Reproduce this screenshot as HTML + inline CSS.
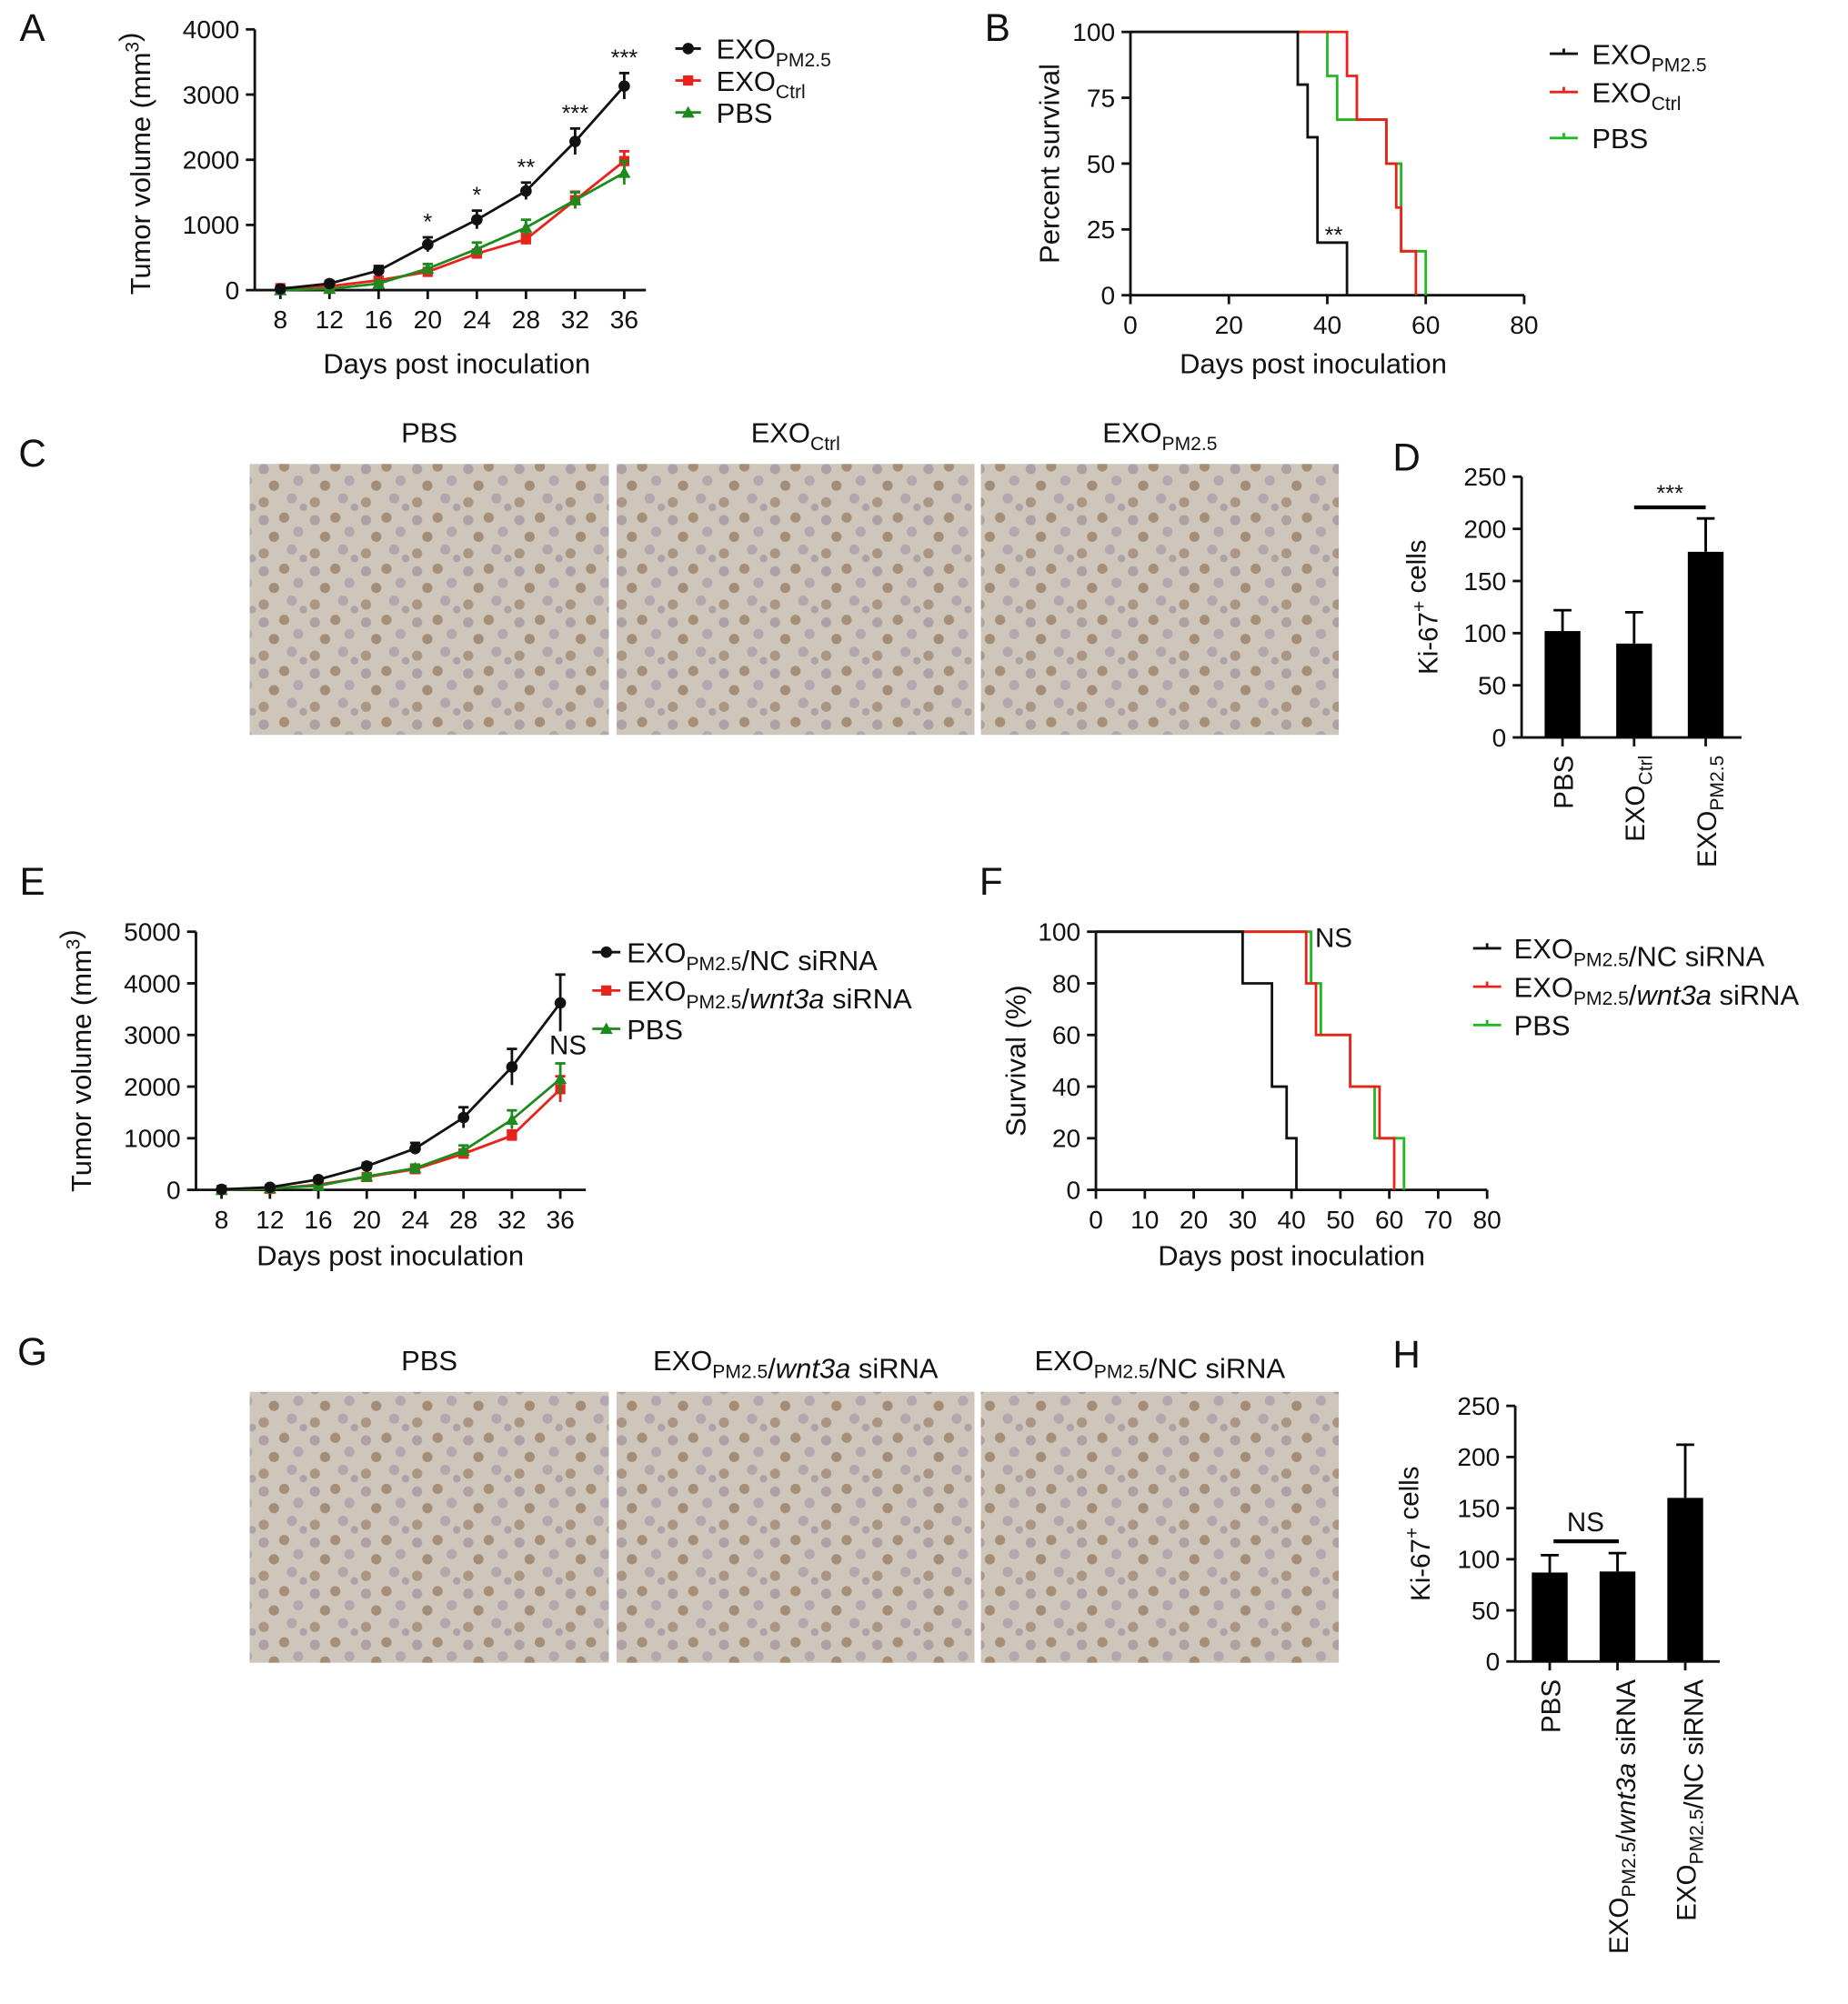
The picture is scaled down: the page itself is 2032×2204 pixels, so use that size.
<!DOCTYPE html>
<html><head><meta charset="utf-8"><style>
html,body{margin:0;padding:0;background:#fff}
svg{display:block;font-family:"Liberation Sans",Arial,sans-serif}
</style></head><body>
<svg id="fig" width="2032" height="2204" viewBox="0 0 1445 1568" xmlns="http://www.w3.org/2000/svg">
<defs>
<pattern id="ihc" width="40" height="40" patternUnits="userSpaceOnUse">
<rect width="40" height="40" fill="#cfc6bb"/>
<circle cx="6" cy="7" r="4" fill="#8f7a8f" opacity=".5"/><circle cx="22" cy="5" r="4" fill="#8a6a4a" opacity=".6"/>
<circle cx="33" cy="16" r="4" fill="#9a8aa6" opacity=".5"/><circle cx="14" cy="20" r="4" fill="#7f5e3e" opacity=".55"/>
<circle cx="28" cy="30" r="4" fill="#9488a0" opacity=".5"/><circle cx="6" cy="33" r="4" fill="#85654a" opacity=".5"/>
<circle cx="37" cy="37" r="3" fill="#8d7d96" opacity=".5"/>
</pattern>
</defs>
<g id="root"></g>
</svg>
<script>
// ---- Panel A data ----
const aDays=[8,12,16,20,24,28,32,36];
const aPM=[20,100,300,700,1080,1520,2280,3130];
const aPMerr=[30,40,70,110,140,130,200,200];
const aCtrl=[30,60,150,280,560,780,1380,1980];
const aCtrlErr=[20,30,40,50,60,80,130,150];
const aPBS=[0,20,100,330,630,960,1380,1800];
const aPBSerr=[10,20,40,70,100,120,120,180];
const aStars=['','','','*','*','**','***','***'];
const aYTicks=[0,1000,2000,3000,4000];
// ---- Panel B data (survival steps: time, percent) ----
const bBlackT=[0,34,36,38,44];const bBlackS=[100,80,60,20,0];
const bRedT=[0,44,46,52,54,55,58];const bRedS=[100,83.3,66.7,50,33.3,16.7,0];
const bGreenT=[0,40,42,52,55,60];const bGreenS=[100,83.3,66.7,50,16.7,0];
const bXTicks=[0,20,40,60,80];const bYTicks=[0,25,50,75,100];
// ---- Panel D data ----
const dVals=[102,90,178];const dErr=[20,30,32];const dTicks=[0,50,100,150,200,250];
// ---- Panel E data ----
const eDays=[8,12,16,20,24,28,32,36];
const ePM=[10,50,200,460,800,1400,2380,3620];
const ePMerr=[20,30,40,60,110,200,350,550];
const eWnt=[0,20,100,250,400,700,1050,1950];
const eWntErr=[10,20,30,40,60,80,100,250];
const ePBS=[0,30,80,260,420,760,1360,2150];
const ePBSerr=[10,20,30,50,70,100,180,300];
const eYTicks=[0,1000,2000,3000,4000,5000];
// ---- Panel F data ----
const fBlackT=[0,30,36,39,41];const fBlackS=[100,80,40,20,0];
const fRedT=[0,43,45,52,58,61];const fRedS=[100,80,60,40,20,0];
const fGreenT=[0,44,46,52,57,63];const fGreenS=[100,80,60,40,20,0];
const fXTicks=[0,10,20,30,40,50,60,70,80];const fYTicks=[0,20,40,60,80,100];
// ---- Panel H data ----
const hVals=[87,88,160];const hErr=[17,18,52];const hTicks=[0,50,100,150,200,250];

const NS='http://www.w3.org/2000/svg';
const root=document.getElementById('root');
function mk(tag,attrs,parent,name){const e=document.createElementNS(NS,tag);for(const k in attrs)e.setAttribute(k,attrs[k]);


(parent||root).appendChild(e);return e;}
function txt(x,y,s,size,parent,name,anchor,extra){const t=mk('text',Object.assign({x:x,y:y,'font-size':size,'text-anchor':anchor||'middle',fill:'#111'},extra||{}),parent,name);t.innerHTML=s;return t;}
function lin(x1,y1,x2,y2,c,w,p,name){return mk('line',{x1,y1,x2,y2,stroke:c,'stroke-width':w||2},p,name);}
const sub=(s)=>`<tspan font-size="15" dy="6">${s}</tspan><tspan dy="-6"></tspan>`;
const sup=(s)=>`<tspan font-size="15" dy="-9">${s}</tspan><tspan dy="9"></tspan>`;

[['A',25,32],['B',780,32],['C',25,365],['D',1100,368],['E',25,700],['F',775,700],['G',25,1068],['H',1100,1070]].forEach(p=>txt(p[1],p[2],p[0],30,root,'panel-label-'+p[0].toLowerCase(),'middle'));

function lineChart(g,cfg){
  const X=v=>cfg.x0+(v-cfg.days[0])/(cfg.days[cfg.days.length-1]-cfg.days[0])*(cfg.x1-cfg.x0);
  const Y=v=>cfg.yb-v/cfg.ymax*(cfg.yb-cfg.yt);
  lin(cfg.ax,cfg.yt,cfg.ax,cfg.yb,'#111',2,g,'y-axis');
  lin(cfg.ax,cfg.yb,cfg.axEnd,cfg.yb,'#111',2,g,'x-axis');
  cfg.yTicks.forEach(t=>{lin(cfg.ax-7,Y(t),cfg.ax,Y(t),'#111',2,g,'y-tick');txt(cfg.ax-12,Y(t)+7,t,20,g,'y-tick-label','end');});
  cfg.days.forEach(d=>{lin(X(d),cfg.yb,X(d),cfg.yb+7,'#111',2,g,'x-tick');txt(X(d),cfg.yb+30,d,20,g,'x-tick-label');});
  cfg.series.forEach(s=>{
    const pts=cfg.days.map((d,i)=>X(d)+','+Y(s.v[i])).join(' ');
    mk('polyline',{points:pts,fill:'none',stroke:s.c,'stroke-width':2},g,s.name+'-line');
    cfg.days.forEach((d,i)=>{const x=X(d);
      lin(x,Y(s.v[i]+s.e[i]),x,Y(Math.max(0,s.v[i]-s.e[i])),s.c,2,g,s.name+'-errorbar');
      lin(x-4,Y(s.v[i]+s.e[i]),x+4,Y(s.v[i]+s.e[i]),s.c,2,g,s.name+'-errorcap');
      if(s.m==='c')mk('circle',{cx:x,cy:Y(s.v[i]),r:4.5,fill:s.c},g,s.name+'-point');
      else if(s.m==='s')mk('rect',{x:x-4,y:Y(s.v[i])-4,width:8,height:8,fill:s.c},g,s.name+'-point');
      else mk('polygon',{points:`${x},${Y(s.v[i])-5} ${x-5},${Y(s.v[i])+4} ${x+5},${Y(s.v[i])+4}`,fill:s.c},g,s.name+'-point');
    });
  });
  return {X,Y};
}
const gA=mk('g',{},root,'panel-a-tumor-volume-chart');
const A=lineChart(gA,{ax:199,axEnd:505,yt:23,yb:227,ymax:4000,x0:219,x1:488,days:aDays,yTicks:aYTicks,
 series:[{v:aCtrl,e:aCtrlErr,c:'#e8231c',m:'s',name:'exo-ctrl'},{v:aPBS,e:aPBSerr,c:'#1e8a1e',m:'t',name:'pbs'},{v:aPM,e:aPMerr,c:'#111',m:'c',name:'exo-pm25'}]});
aDays.forEach((d,i)=>{if(aStars[i])txt(A.X(d),A.Y(aPM[i]+aPMerr[i])-6,aStars[i],18,gA,'significance-star');});
txt(357,292,'Days post inoculation',22,gA,'x-axis-title');
txt(0,0,'Tumor volume (mm'+sup('3')+')',22,gA,'y-axis-title','middle',{transform:'translate(117,128) rotate(-90)'});
[['EXO'+sub('PM2.5'),'#111','c',38],['EXO'+sub('Ctrl'),'#e8231c','s',63],['PBS','#1e8a1e','t',88]].forEach((l,i)=>{
 lin(528,l[3],548,l[3],l[1],2,gA,'legend-line');
 if(l[2]==='c')mk('circle',{cx:538,cy:l[3],r:4.5,fill:l[1]},gA,'legend-marker');
 else if(l[2]==='s')mk('rect',{x:534,y:l[3]-4,width:8,height:8,fill:l[1]},gA,'legend-marker');
 else mk('polygon',{points:`538,${l[3]-5} 533,${l[3]+4} 543,${l[3]+4}`,fill:l[1]},gA,'legend-marker');
 txt(560,l[3]+8,l[0],22,gA,'legend-entry','start');
});

function survChart(g,cfg){
  const X=v=>cfg.ax+v/cfg.xmax*(cfg.xe-cfg.ax);
  const Y=v=>cfg.yb-v/100*(cfg.yb-cfg.yt);
  lin(cfg.ax,cfg.yt,cfg.ax,cfg.yb,'#111',2,g,'y-axis');
  lin(cfg.ax,cfg.yb,cfg.xe,cfg.yb,'#111',2,g,'x-axis');
  cfg.yTicks.forEach(t=>{lin(cfg.ax-7,Y(t),cfg.ax,Y(t),'#111',2,g,'y-tick');txt(cfg.ax-12,Y(t)+7,t,20,g,'y-tick-label','end');});
  cfg.xTicks.forEach(t=>{lin(X(t),cfg.yb,X(t),cfg.yb+7,'#111',2,g,'x-tick');txt(X(t),cfg.yb+30,t,20,g,'x-tick-label');});
  cfg.series.forEach(s=>{let d='M'+X(s.t[0])+','+Y(s.s[0]);
    for(let i=1;i<s.t.length;i++){d+=' H'+X(s.t[i])+' V'+Y(s.s[i]);}
    d+=' H'+X(s.t[s.t.length-1]);
    mk('path',{d:d,fill:'none',stroke:s.c,'stroke-width':2},g,s.name+'-survival-curve');});
  return {X,Y};
}
const gB=mk('g',{},root,'panel-b-survival-chart');
survChart(gB,{ax:884,xe:1192,yt:25,yb:231,xmax:80,xTicks:bXTicks,yTicks:bYTicks,
 series:[{t:bGreenT,s:bGreenS,c:'#22b822',name:'pbs'},{t:bRedT,s:bRedS,c:'#e8231c',name:'exo-ctrl'},{t:bBlackT,s:bBlackS,c:'#111',name:'exo-pm25'}]});
txt(1043,190,'**',18,gB,'significance-star');
txt(1027,292,'Days post inoculation',22,gB,'x-axis-title');
txt(0,0,'Percent survival',22,gB,'y-axis-title','middle',{transform:'translate(828,128) rotate(-90)'});
[['EXO'+sub('PM2.5'),'#111',42],['EXO'+sub('Ctrl'),'#e8231c',72],['PBS','#22b822',108]].forEach(l=>{
 lin(1212,l[2],1234,l[2],l[1],2,gB,'legend-line');lin(1223,l[2]-4,1223,l[2],l[1],2,gB,'legend-tick');
 txt(1245,l[2]+8,l[0],22,gB,'legend-entry','start');});

function ihc(y,labels,name){const xs=[[195,476],[482,762],[767,1047]];
 xs.forEach((p,i)=>{mk('rect',{x:p[0],y:y,width:p[1]-p[0],height:212,fill:'url(#ihc)'},root,name+'-image-'+(i+1));
 txt((p[0]+p[1])/2,y-17,labels[i],22,root,name+'-image-label');});}
ihc(363,['PBS','EXO'+sub('Ctrl'),'EXO'+sub('PM2.5')],'panel-c');
ihc(1089,['PBS','EXO'+sub('PM2.5')+'/<tspan font-style="italic">wnt3a</tspan> siRNA','EXO'+sub('PM2.5')+'/NC siRNA'],'panel-g');

function barChart(g,cfg){
  const Y=v=>cfg.yb-v/250*(cfg.yb-cfg.yt);
  lin(cfg.ax,cfg.yt,cfg.ax,cfg.yb,'#111',2,g,'y-axis');
  lin(cfg.ax,cfg.yb,cfg.xe,cfg.yb,'#111',2,g,'x-axis');
  cfg.ticks.forEach(t=>{lin(cfg.ax-7,Y(t),cfg.ax,Y(t),'#111',2,g,'y-tick');txt(cfg.ax-12,Y(t)+7,t,20,g,'y-tick-label','end');});
  cfg.vals.forEach((v,i)=>{const x=cfg.bx0+i*cfg.step;
    mk('rect',{x:x-14,y:Y(v),width:28,height:cfg.yb-Y(v),fill:'#000'},g,'bar-'+(i+1));
    lin(x,Y(v),x,Y(v+cfg.err[i]),'#000',2,g,'bar-errorbar');
    lin(x-7,Y(v+cfg.err[i]),x+7,Y(v+cfg.err[i]),'#000',2,g,'bar-errorcap');
    lin(x,cfg.yb,x,cfg.yb+7,'#111',2,g,'x-tick');
    txt(0,0,cfg.labels[i],21,g,'x-tick-label','end',{transform:`translate(${x+8},${cfg.yb+14}) rotate(-90)`});});
  return {Y};
}
const gD=mk('g',{},root,'panel-d-ki67-bar-chart');
barChart(gD,{ax:1190,xe:1362,yt:373,yb:577,bx0:1222,step:56,vals:dVals,err:dErr,ticks:dTicks,labels:['PBS','EXO'+sub('Ctrl'),'EXO'+sub('PM2.5')]});
lin(1278,397,1334,397,'#000',3,gD,'significance-bracket');txt(1306,392,'***',18,gD,'significance-star');
txt(0,0,'Ki-67'+sup('+')+' cells',21,gD,'y-axis-title','middle',{transform:'translate(1124,475) rotate(-90)'});

const gE=mk('g',{},root,'panel-e-tumor-volume-chart');
lineChart(gE,{ax:153,axEnd:458,yt:729,yb:931,ymax:5000,x0:173,x1:438,days:eDays,yTicks:eYTicks,
 series:[{v:eWnt,e:eWntErr,c:'#e8231c',m:'s',name:'exo-wnt3a'},{v:ePBS,e:ePBSerr,c:'#1e8a1e',m:'t',name:'pbs'},{v:ePM,e:ePMerr,c:'#111',m:'c',name:'exo-nc'}]});
txt(444,825,'NS',21,gE,'ns-label');
txt(305,990,'Days post inoculation',22,gE,'x-axis-title');
txt(0,0,'Tumor volume (mm'+sup('3')+')',22,gE,'y-axis-title','middle',{transform:'translate(71,830) rotate(-90)'});
[['EXO'+sub('PM2.5')+'/NC siRNA','#111','c',745],['EXO'+sub('PM2.5')+'/<tspan font-style="italic">wnt3a</tspan> siRNA','#e8231c','s',775],['PBS','#1e8a1e','t',805]].forEach(l=>{
 lin(463,l[3],485,l[3],l[1],2,gE,'legend-line');
 if(l[2]==='c')mk('circle',{cx:474,cy:l[3],r:4.5,fill:l[1]},gE,'legend-marker');
 else if(l[2]==='s')mk('rect',{x:470,y:l[3]-4,width:8,height:8,fill:l[1]},gE,'legend-marker');
 else mk('polygon',{points:`474,${l[3]-5} 469,${l[3]+4} 479,${l[3]+4}`,fill:l[1]},gE,'legend-marker');
 txt(490,l[3]+8,l[0],22,gE,'legend-entry','start');});

const gF=mk('g',{},root,'panel-f-survival-chart');
survChart(gF,{ax:857,xe:1163,yt:729,yb:931,xmax:80,xTicks:fXTicks,yTicks:fYTicks,
 series:[{t:fGreenT,s:fGreenS,c:'#22b822',name:'pbs'},{t:fRedT,s:fRedS,c:'#e8231c',name:'exo-wnt3a'},{t:fBlackT,s:fBlackS,c:'#111',name:'exo-nc'}]});
txt(1043,741,'NS',21,gF,'ns-label');
txt(1010,990,'Days post inoculation',22,gF,'x-axis-title');
txt(0,0,'Survival (%)',22,gF,'y-axis-title','middle',{transform:'translate(802,830) rotate(-90)'});
[['EXO'+sub('PM2.5')+'/NC siRNA','#111',742],['EXO'+sub('PM2.5')+'/<tspan font-style="italic">wnt3a</tspan> siRNA','#e8231c',772],['PBS','#22b822',802]].forEach(l=>{
 lin(1152,l[2],1174,l[2],l[1],2,gF,'legend-line');lin(1163,l[2]-4,1163,l[2],l[1],2,gF,'legend-tick');
 txt(1184,l[2]+8,l[0],22,gF,'legend-entry','start');});

const gH=mk('g',{},root,'panel-h-ki67-bar-chart');
barChart(gH,{ax:1185,xe:1345,yt:1100,yb:1300,bx0:1212,step:53,vals:hVals,err:hErr,ticks:hTicks,
 labels:['PBS','EXO'+sub('PM2.5')+'/<tspan font-style="italic">wnt3a</tspan> siRNA','EXO'+sub('PM2.5')+'/NC siRNA']});
lin(1215,1206,1266,1206,'#000',3,gH,'significance-bracket');txt(1240,1198,'NS',21,gH,'ns-label');
txt(0,0,'Ki-67'+sup('+')+' cells',21,gH,'y-axis-title','middle',{transform:'translate(1118,1200) rotate(-90)'});
</script>
</body></html>
